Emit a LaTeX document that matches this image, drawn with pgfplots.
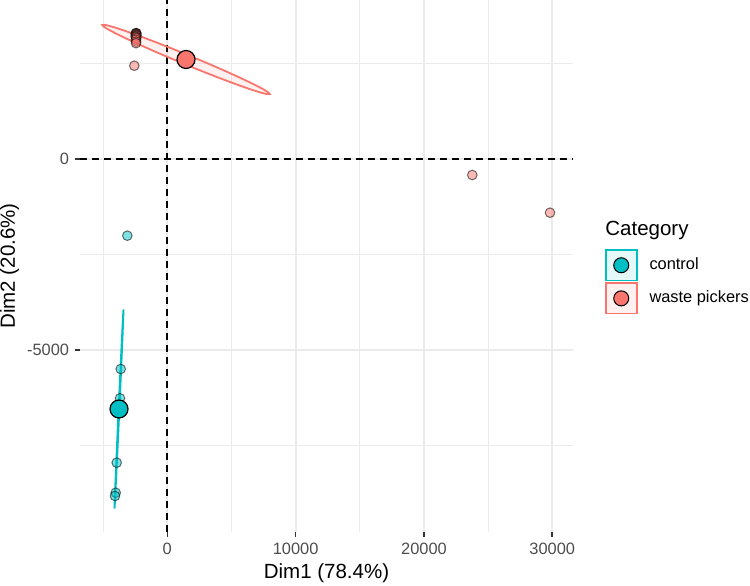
\documentclass[border=0pt]{standalone}
\usepackage{pgfplots}
\pgfplotsset{compat=1.18}
\usepackage{fontspec}
\setmainfont{Liberation Sans}
\definecolor{wp}{HTML}{F8766D}
\definecolor{ctrl}{HTML}{00BFC4}
\definecolor{gridc}{HTML}{EBEBEB}
\definecolor{tickc}{HTML}{333333}
\definecolor{labc}{HTML}{4D4D4D}
\newcommand{\smallf}{\fontsize{8.2}{9.8}\selectfont}
\newcommand{\bigf}{\fontsize{10.25}{12}\selectfont}
\begin{document}
\begin{tikzpicture}
\useasboundingbox (0,0) rectangle (375pt,292.5pt);
\begin{axis}[
  at={(40pt,26.5pt)}, anchor=south west,
  scale only axis, width=246.5pt, height=266pt,
  xmin=-6803, xmax=31614, ymin=-9757, ymax=4170,
  scaled ticks=false,
  xtick={0,10000,20000,30000}, xticklabels={0,10000,20000,30000},
  ytick={-5000,0}, yticklabels={-5000,0},
  minor xtick={-5000,5000,15000,25000},
  minor ytick={-7500,-2500,2500},
  xmajorgrids, xminorgrids, ymajorgrids, yminorgrids,
  major grid style={draw=gridc, line width=1.1pt},
  minor grid style={draw=gridc, line width=0.55pt},
  axis line style={draw=none},
  tick align=outside, tick pos=left,
  major tick length=2.55pt, minor tick length=0pt,
  major tick style={draw=tickc, line width=0.8pt},
  xticklabel style={font=\smallf, text=labc, inner sep=0pt, anchor=north, yshift=-3pt},
  yticklabel style={font=\smallf, text=labc, inner sep=0pt, anchor=east, xshift=-2.75pt},
  xlabel={Dim1 (78.4\%)},
  xlabel style={at={(axis description cs:0.5,-0.08647)}, anchor=base, inner sep=0pt, font=\bigf},
  ylabel={Dim2 (20.6\%)},
  ylabel style={at={(axis description cs:-0.13185,0.5)}, anchor=base, inner sep=0pt, font=\bigf},
  clip=false,
  legend style={at={(axis description cs:1.0649,0.5314)}, anchor=north west,
    draw=none, fill=none, inner sep=0pt, outer sep=0pt, row sep=0.6pt, column sep=6pt,
    font=\smallf, nodes={inner sep=0pt, anchor=west}},
  legend cell align=left,
]
% reference lines
\addplot[forget plot, black, line width=0.9pt, dash pattern=on 3.5pt off 2.5pt] coordinates {(-6803,0) (31614,0)};
\addplot[forget plot, black, line width=0.9pt, dash pattern=on 3.5pt off 2.5pt] coordinates {(0,-9757) (0,4170)};
% control individuals
\addplot[forget plot, only marks, mark=*, mark size=2.4pt,
  mark options={draw=black, draw opacity=0.55, fill=ctrl, fill opacity=0.5, line width=0.5pt}]
  coordinates {(-3117,-2000) (-3631,-5490) (-3686,-6257) (-3943,-7942) (-4021,-8728) (-4075,-8814)};
% waste pickers individuals
\addplot[forget plot, only marks, mark=*, mark size=2.4pt,
  mark options={draw=black, draw opacity=0.55, fill=wp, fill opacity=0.5, line width=0.5pt}]
  coordinates {(-2420,3306) (-2450,3300) (-2410,3290) (-2460,3280) (-2430,3260) (-2400,3240)
               (-2470,3220) (-2440,3200) (-2420,3170) (-2450,3130) (-2430,3080) (-2440,3040)
               (-2571,2450) (23767,-411) (29822,-1398)};
% concentration ellipses (centred on the group centroids)
\draw[wp, fill=wp, fill opacity=0.1, draw opacity=1, line width=0.9pt]
  (axis cs:1457,2613) ellipse [x radius=45.25pt, y radius=2.4pt, rotate=-22.42];
\draw[ctrl, fill=ctrl, fill opacity=0.1, draw opacity=1, line width=0.9pt]
  (axis cs:-3764,-6537) ellipse [x radius=49.8pt, y radius=0.2pt, rotate=87.41];
% centroids
\addplot[forget plot, only marks, mark=*, mark size=4.5pt,
  mark options={draw=black, fill=ctrl, line width=0.6pt}] coordinates {(-3764,-6537)};
\addplot[forget plot, only marks, mark=*, mark size=4.5pt,
  mark options={draw=black, fill=wp, line width=0.6pt}] coordinates {(1457,2613)};
% legend
\addlegendimage{legend image code/.code={
  \draw[draw=ctrl, fill=ctrl!10, line width=0.75pt] (0pt,-7.6pt) rectangle (15.5pt,7.6pt);
  \draw[black, fill=ctrl, line width=0.5pt] (7.75pt,0pt) circle (3.75pt);}}
\addlegendentry{control}
\addlegendimage{legend image code/.code={
  \draw[draw=wp, fill=wp!10, line width=0.75pt] (0pt,-7.6pt) rectangle (15.5pt,7.6pt);
  \draw[black, fill=wp, line width=0.5pt] (7.75pt,0pt) circle (3.75pt);}}
\addlegendentry{waste pickers}
\end{axis}
\node[anchor=base west, inner sep=0pt, font=\bigf] at (302.5pt,175pt) {Category};
\end{tikzpicture}
\end{document}
